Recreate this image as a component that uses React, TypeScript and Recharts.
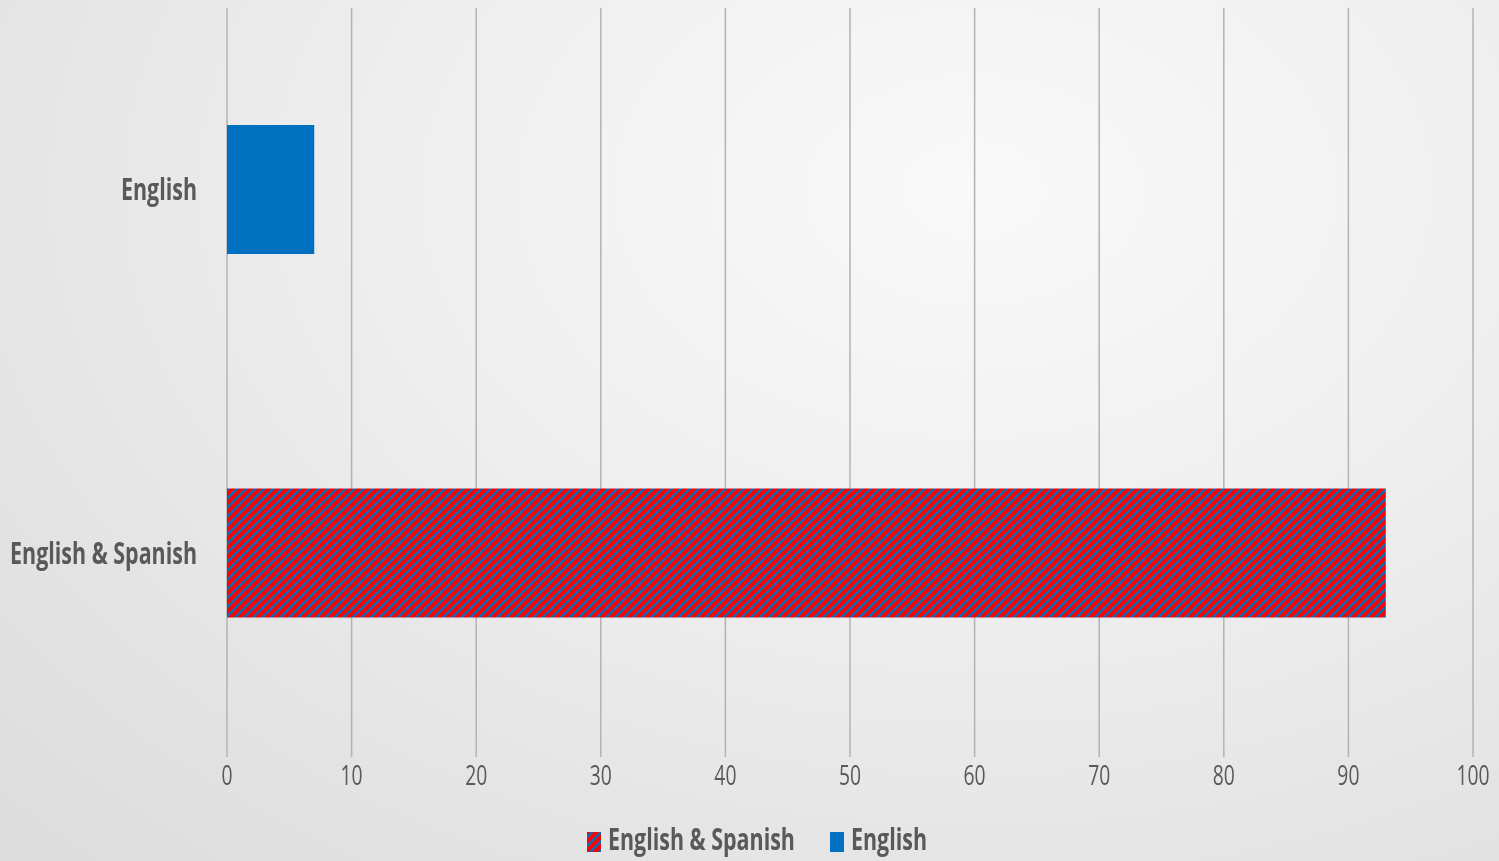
import React from "react";
import { BarChart, Bar, XAxis, YAxis, CartesianGrid, Legend } from "recharts";

const categories = ["English", "English & Spanish"];
const englishValues = [7, 0];
const englishSpanishValues = [0, 93];
const xTicks = [0, 10, 20, 30, 40, 50, 60, 70, 80, 90, 100];

const data = categories.map((name, i) => ({
  name,
  english: englishValues[i],
  englishSpanish: englishSpanishValues[i],
}));

const FONT = "'Open Sans', 'Noto Sans', sans-serif";
const TEXT = "#595959";
const BLUE = "#0070c0";
const RED = "#ff0000";
const SQUEEZE = 0.69;
const SQUEEZE_BOLD = 0.715;

const legendItems = [
  { label: "English & Spanish", fill: "url(#hatchLegend)", x: 587 },
  { label: "English", fill: BLUE, x: 830 },
];

const XTick = (props: any) => {
  const { x, payload } = props;
  return (
    <g transform={`translate(${x},785)`}>
      <text
        x={0}
        y={0}
        textAnchor="middle"
        transform={`scale(${SQUEEZE},1)`}
        fontFamily={FONT}
        fontSize={28}
        fill={TEXT}
      >
        {payload.value}
      </text>
    </g>
  );
};

const YTick = (props: any) => {
  const { y, payload } = props;
  return (
    <g transform={`translate(197,${y + 10.5})`}>
      <text
        x={0}
        y={0}
        textAnchor="end"
        transform={`scale(${SQUEEZE_BOLD},1)`}
        fontFamily={FONT}
        fontSize={30}
        fontWeight={700}
        fill={TEXT}
      >
        {payload.value}
      </text>
    </g>
  );
};

const renderLegend = () => (
  <svg width={1499} height={54} style={{ display: "block" }}>
    <defs>
      <pattern id="hatchLegend" patternUnits="userSpaceOnUse" width={6.4} height={10} patternTransform="rotate(45)">
        <rect x={0} y={0} width={6.4} height={10} fill={RED} />
        <rect x={0} y={0} width={2.4} height={10} fill={BLUE} />
      </pattern>
    </defs>
    {legendItems.map((it) => (
      <g key={it.label}>
        <rect x={it.x} y={25} width={14} height={20} fill={it.fill} />
        <g transform={`translate(${it.x + 21},43)`}>
          <text
            x={0}
            y={0}
            transform={`scale(${SQUEEZE_BOLD},1)`}
            fontFamily={FONT}
            fontSize={30}
            fontWeight={700}
            fill={TEXT}
          >
            {it.label}
          </text>
        </g>
      </g>
    ))}
  </svg>
);

export default function App() {
  return (
    <div
      style={{
        position: "fixed",
        left: 0,
        top: 0,
        width: 1499,
        height: 861,
        background: "radial-gradient(ellipse at 65% 22%, #f9f9f9 0%, #efefef 40%, #e2e2e2 80%, #dcdcdc 100%)",
      }}
    >
      <BarChart
        width={1499}
        height={861}
        data={data}
        layout="vertical"
        margin={{ top: 8, right: 26, left: 0, bottom: 0 }}
      >
        <defs>
          <pattern id="hatch" patternUnits="userSpaceOnUse" width={6.4} height={10} patternTransform="rotate(45)">
            <rect x={0} y={0} width={6.4} height={10} fill={RED} />
            <rect x={0} y={0} width={2.4} height={10} fill={BLUE} />
          </pattern>
        </defs>
        <CartesianGrid horizontal={false} vertical stroke="#b3b3b3" strokeWidth={1.5} />
        <XAxis
          type="number"
          domain={[0, 100]}
          ticks={xTicks}
          axisLine={false}
          tickLine={false}
          height={50}
          tick={<XTick />}
        />
        <YAxis
          type="category"
          dataKey="name"
          width={227}
          axisLine={false}
          tickLine={false}
          padding={{ top: 0, bottom: 22 }}
          tick={<YTick />}
        />
        <Legend verticalAlign="bottom" content={renderLegend} />
        <Bar dataKey="englishSpanish" name="English & Spanish" stackId="a" fill="url(#hatch)" barSize={129} isAnimationActive={false} />
        <Bar dataKey="english" name="English" stackId="a" fill={BLUE} barSize={129} isAnimationActive={false} />
      </BarChart>
    </div>
  );
}
